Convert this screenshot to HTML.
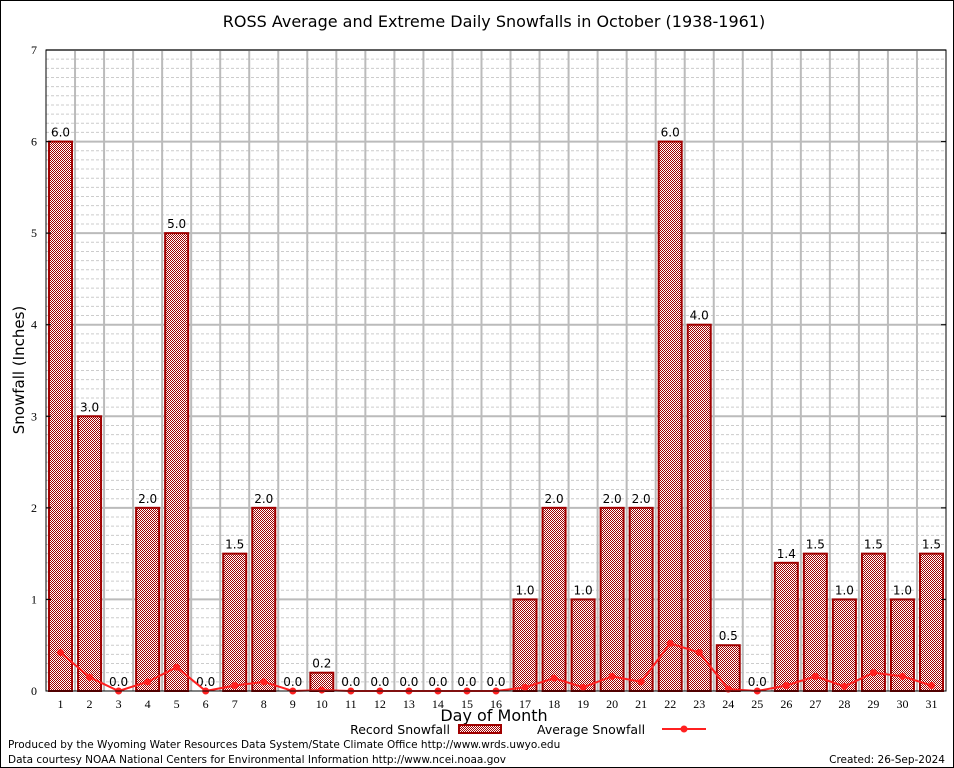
<!DOCTYPE html>
<html><head><meta charset="utf-8"><style>
body{margin:0;background:#fff;}
svg{display:block;font-family:"DejaVu Sans","Liberation Sans",sans-serif;}
</style></head><body>
<svg id="c" width="954" height="768">
<defs>
<pattern id="chk" width="2" height="2" patternUnits="userSpaceOnUse">
<rect width="2" height="2" fill="#fff"/><rect width="1" height="1" fill="#a00000"/><rect x="1" y="1" width="1" height="1" fill="#a00000"/>
</pattern>
</defs>
<rect x="0.5" y="0.5" width="953" height="767" fill="#fff" stroke="#000"/>
<g id="grid"></g>
<g id="bars"></g>
<g id="line"></g>
<g id="axes"></g>
<text x="494" y="27" font-size="16" text-anchor="middle">ROSS Average and Extreme Daily Snowfalls in October (1938-1961)</text>
<text x="494" y="721" font-size="16" text-anchor="middle">Day of Month</text>
<text transform="translate(24,370) rotate(-90)" font-size="15" text-anchor="middle">Snowfall (Inches)</text>
<g>
<text x="450" y="734" font-size="12.5" text-anchor="end">Record Snowfall</text>
<rect x="459" y="725" width="42" height="8" fill="url(#chk)" stroke="#a00000" stroke-width="2"/>
<text x="537" y="734" font-size="12.5">Average Snowfall</text>
<line x1="662" y1="729" x2="706" y2="729" stroke="#ff2020" stroke-width="2"/>
<circle cx="684" cy="729" r="3.5" fill="#ff2020"/>
</g>
<text x="8" y="748" font-size="10.5">Produced by the Wyoming Water Resources Data System/State Climate Office http://www.wrds.uwyo.edu</text>
<text x="8" y="763" font-size="10.5">Data courtesy NOAA National Centers for Environmental Information http://www.ncei.noaa.gov</text>
<text x="945" y="763" font-size="10.5" text-anchor="end">Created:  26-Sep-2024</text>
</svg>
<script>
const days=[1,2,3,4,5,6,7,8,9,10,11,12,13,14,15,16,17,18,19,20,21,22,23,24,25,26,27,28,29,30,31];
const recordValues=[6.0,3.0,0.0,2.0,5.0,0.0,1.5,2.0,0.0,0.2,0.0,0.0,0.0,0.0,0.0,0.0,1.0,2.0,1.0,2.0,2.0,6.0,4.0,0.5,0.0,1.4,1.5,1.0,1.5,1.0,1.5];
const averageValues=[0.42,0.15,0.0,0.1,0.26,0.0,0.06,0.1,0.0,0.01,0.0,0.0,0.0,0.0,0.0,0.0,0.04,0.14,0.04,0.16,0.1,0.52,0.42,0.02,0.0,0.06,0.16,0.05,0.2,0.16,0.06];
const yTicks=[0,1,2,3,4,5,6,7];
const NS="http://www.w3.org/2000/svg";
const L=46,R=946,T=50,B=691,yMax=7;
const slot=(R-L)/days.length;
const x=i=>L+slot*(i+0.5);
const y=v=>B-(v/yMax)*(B-T);
function mk(p,tag,a){const e=document.createElementNS(NS,tag);for(const k in a)e.setAttribute(k,a[k]);p.appendChild(e);return e;}
const grid=document.getElementById('grid'),bars=document.getElementById('bars'),line=document.getElementById('line'),axes=document.getElementById('axes');
for(let v=0.1;v<yMax;v+=0.1){const r=Math.round(v*10);if(r%10===0)continue;
const g=mk(grid,'line',{x1:L,x2:R,y1:y(v),y2:y(v),stroke:'#ccc','stroke-dasharray':'3,2','stroke-width':1});

}
yTicks.forEach(v=>{if(v===0)return;const g=mk(grid,'line',{x1:L,x2:R,y1:y(v),y2:y(v),stroke:'#bbb','stroke-width':2});

});
for(let i=1;i<days.length;i++){const g=mk(grid,'line',{x1:L+slot*i,x2:L+slot*i,y1:T,y2:B,stroke:'#bbb','stroke-width':2});

}
days.forEach((d,i)=>{const v=recordValues[i];
if(v>0){const b=mk(bars,'rect',{x:x(i)-11.5,y:y(v),width:23,height:B-y(v),fill:'url(#chk)',stroke:'#a00000','stroke-width':2});

}
const t=mk(bars,'text',{x:x(i),y:y(v)-5,'font-size':12,'text-anchor':'middle'});t.textContent=v.toFixed(1);

});
const pl=mk(line,'polyline',{points:averageValues.map((v,i)=>x(i)+','+y(v)).join(' '),fill:'none',stroke:'#ff2020','stroke-width':2});


averageValues.forEach((v,i)=>{const c=mk(line,'circle',{cx:x(i),cy:y(v),r:3.5,fill:'#ff2020'});

});
const fr=mk(axes,'rect',{x:L,y:T,width:R-L,height:B-T,fill:'none',stroke:'#000','stroke-width':1});


yTicks.forEach(v=>{const t=mk(axes,'text',{x:L-9,y:y(v)+4,'font-size':12,'text-anchor':'end','font-family':'Liberation Serif, serif'});t.textContent=v;


mk(axes,'line',{x1:L,x2:L+5,y1:y(v),y2:y(v),stroke:'#000'});mk(axes,'line',{x1:R-5,x2:R,y1:y(v),y2:y(v),stroke:'#000'});});
days.forEach((d,i)=>{const t=mk(axes,'text',{x:x(i),y:B+17,'font-size':12,'text-anchor':'middle','font-family':'Liberation Serif, serif'});t.textContent=d;

});
</script>
</body></html>
